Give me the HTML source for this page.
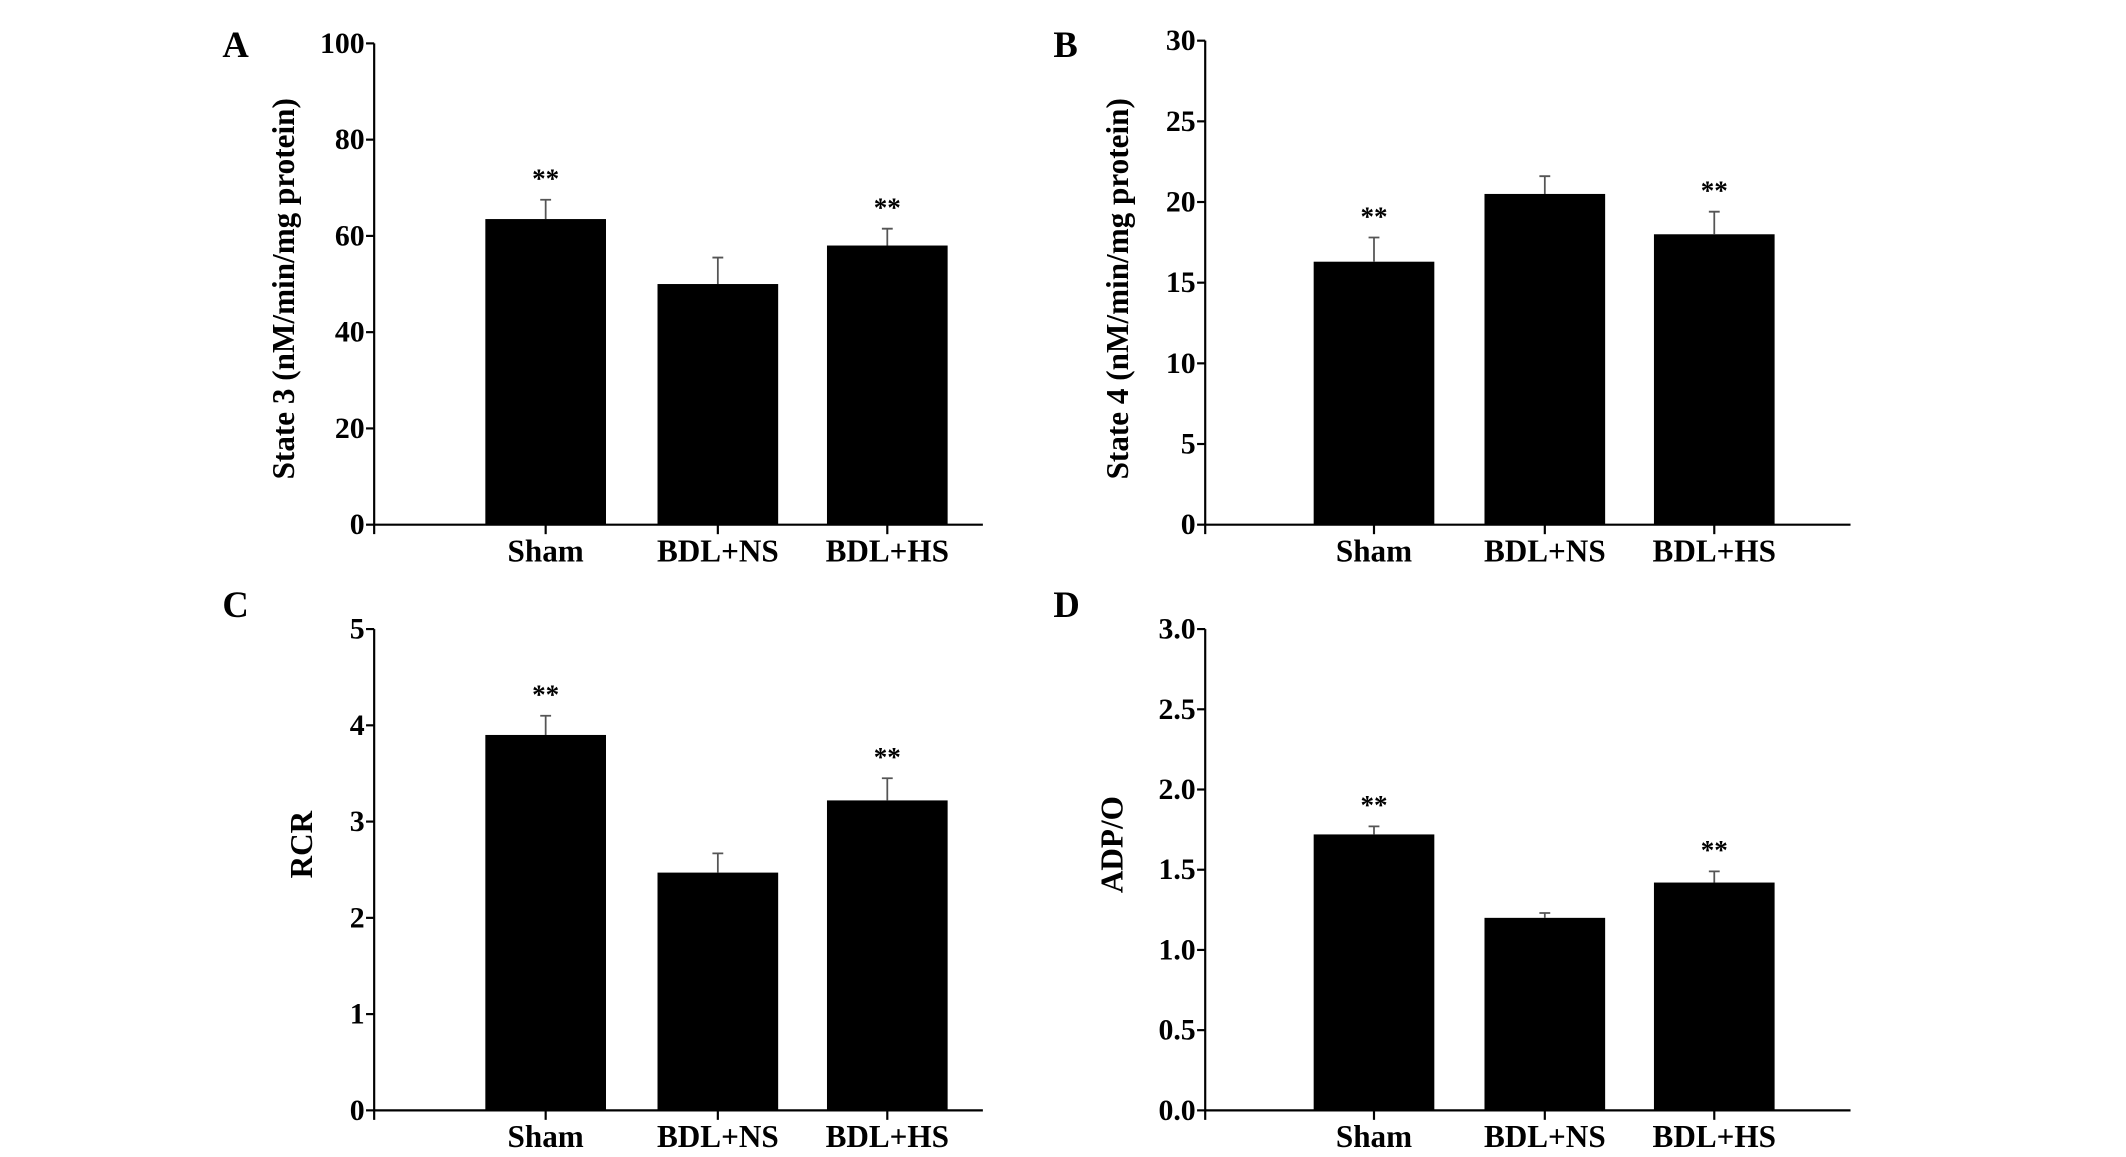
<!DOCTYPE html>
<html><head><meta charset="utf-8"><style>
html,body{margin:0;padding:0;background:#fff;}
svg{display:block;}
text{font-family:"Liberation Serif",serif;font-weight:bold;fill:#000;}
</style></head><body>
<svg id="fig" width="2126" height="1157" viewBox="0 0 1568.2 853.4" preserveAspectRatio="none" xmlns="http://www.w3.org/2000/svg"></svg>
<script>
const categories = ["Sham", "BDL+NS", "BDL+HS"];
const state3Values = [63.5, 50, 58];
const state3Errors = [4, 5.5, 3.5];
const state3Sig = [true, false, true];
const state3Ticks = ["0", "20", "40", "60", "80", "100"];
const state4Values = [16.3, 20.5, 18];
const state4Errors = [1.5, 1.1, 1.4];
const state4Sig = [true, false, true];
const state4Ticks = ["0", "5", "10", "15", "20", "25", "30"];
const rcrValues = [3.9, 2.47, 3.22];
const rcrErrors = [0.2, 0.2, 0.23];
const rcrSig = [true, false, true];
const rcrTicks = ["0", "1", "2", "3", "4", "5"];
const adpValues = [1.72, 1.2, 1.42];
const adpErrors = [0.05, 0.03, 0.07];
const adpSig = [true, false, true];
const adpTicks = ["0.0", "0.5", "1.0", "1.5", "2.0", "2.5", "3.0"];

const NS = "http://www.w3.org/2000/svg";
const svg = document.getElementById("fig");
function mk(tag, attrs, parent, text) {
  const e = document.createElementNS(NS, tag);
  for (const k in attrs) e.setAttribute(k, attrs[k]);
  if (text !== undefined) e.textContent = text;
  (parent || svg).appendChild(e);
  return e;
}

function panel(cfg) {
  const g = mk("g", {});
  
  
  const ticksN = cfg.ticks.map(Number);
  const ymax = ticksN[ticksN.length - 1];
  const y = v => cfg.y0 - (v / ymax) * (cfg.y0 - cfg.yTop);
  const barX = cfg.offs.map(o => cfg.ax + o);
  const bw = 89;
  const L = mk("text", {x: cfg.lx, y: cfg.ly, "font-size": 27}, g, cfg.letter);
  
  
  const ya = mk("line", {x1: cfg.ax, y1: cfg.yTop, x2: cfg.ax, y2: cfg.y0 + 7, stroke: "#000", "stroke-width": 1.6}, g);
  
  
  const xa = mk("line", {x1: cfg.ax, y1: cfg.y0, x2: cfg.ax + cfg.xlen, y2: cfg.y0, stroke: "#000", "stroke-width": 1.6}, g);
  
  
  cfg.ticks.forEach((t, i) => {
    const yy = y(ticksN[i]);
    mk("line", {x1: cfg.ax - 6, y1: yy, x2: cfg.ax, y2: yy, stroke: "#000", "stroke-width": 1.6}, g);
    const tl = mk("text", {x: cfg.ax - 7, y: yy + 7, "font-size": 22, "text-anchor": "end"}, g, t);
    
    
  });
  const tt = mk("text", {x: 0, y: 0, "font-size": 23, "text-anchor": "middle", transform: `translate(${cfg.tx},${cfg.ty}) rotate(-90)`}, g, cfg.title);
  
  
  categories.forEach((c, i) => {
    const v = cfg.values[i], e = cfg.errors[i];
    const cx = barX[i] + bw / 2;
    const b = mk("rect", {x: barX[i], y: y(v), width: bw, height: cfg.y0 - y(v), fill: "#000"}, g);
    
    
    const eb = mk("path", {d: `M${cx},${y(v)}V${y(v + e)}M${cx - 4},${y(v + e)}H${cx + 4}`, stroke: "#555", "stroke-width": 1.3, fill: "none"}, g);
    
    
    if (cfg.sig[i]) {
      const s = mk("text", {x: cx, y: y(v + e) - 9, "font-size": 20, "text-anchor": "middle"}, g, "**");
      
      
    }
    mk("line", {x1: cx, y1: cfg.y0, x2: cx, y2: cfg.y0 + 7, stroke: "#000", "stroke-width": 1.6}, g);
    const cl = mk("text", {x: cx, y: cfg.y0 + 27, "font-size": 23, "text-anchor": "middle"}, g, c);
    
    
  });
}

const leftOffs = [82, 209, 334];
const rightOffs = [80, 206, 331];
panel({name: "panel-a-state3", letter: "A", lx: 164, ly: 42, ax: 276, xlen: 449, offs: leftOffs, yTop: 32, y0: 387, ticks: state3Ticks, values: state3Values, errors: state3Errors, sig: state3Sig, title: "State 3 (nM/min/mg protein)", tx: 217, ty: 213});
panel({name: "panel-b-state4", letter: "B", lx: 777, ly: 42, ax: 889, xlen: 476, offs: rightOffs, yTop: 30, y0: 387, ticks: state4Ticks, values: state4Values, errors: state4Errors, sig: state4Sig, title: "State 4 (nM/min/mg protein)", tx: 832, ty: 213});
panel({name: "panel-c-rcr", letter: "C", lx: 164, ly: 455, ax: 276, xlen: 449, offs: leftOffs, yTop: 464, y0: 819, ticks: rcrTicks, values: rcrValues, errors: rcrErrors, sig: rcrSig, title: "RCR", tx: 230, ty: 623});
panel({name: "panel-d-adpo", letter: "D", lx: 777, ly: 455, ax: 889, xlen: 476, offs: rightOffs, yTop: 464, y0: 819, ticks: adpTicks, values: adpValues, errors: adpErrors, sig: adpSig, title: "ADP/O", tx: 828, ty: 623});
</script>
</body></html>
